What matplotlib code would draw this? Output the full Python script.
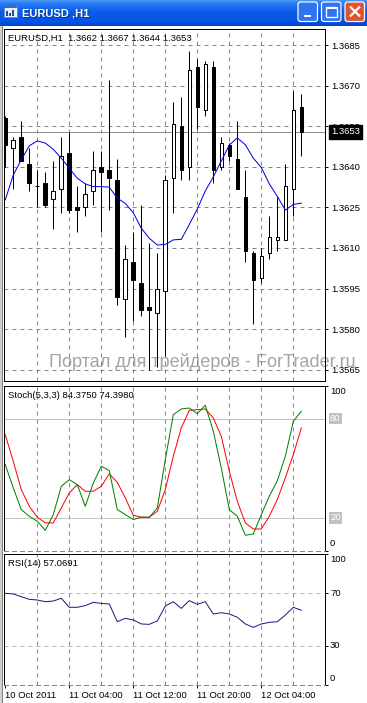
import numpy as np
import matplotlib
matplotlib.use("Agg")
import matplotlib.pyplot as plt
from matplotlib.patches import Rectangle, FancyBboxPatch
from matplotlib.colors import LinearSegmentedColormap

# ---- data (EURUSD H1, 38 bars) ----
opens = [1.3658, 1.3647, 1.3651, 1.3641, 1.3633, 1.3634, 1.3628, 1.3632, 1.3645, 1.3625,
         1.3625, 1.3631, 1.3640, 1.3639, 1.3635, 1.3591, 1.3605, 1.3597, 1.3588, 1.3586,
         1.3594, 1.3636, 1.3655, 1.3640, 1.3677, 1.3661, 1.3677, 1.3640, 1.3648, 1.3643,
         1.3629, 1.3608, 1.3599, 1.3608, 1.3613, 1.3613, 1.3632, 1.3662]
highs = [1.3659, 1.3651, 1.3657, 1.3647, 1.3639, 1.3638, 1.3642, 1.3651, 1.3653, 1.3633,
         1.3634, 1.3646, 1.3646, 1.3672, 1.3643, 1.3611, 1.3616, 1.3626, 1.3612, 1.3608,
         1.3637, 1.3664, 1.3666, 1.3683, 1.3680, 1.3679, 1.3679, 1.3651, 1.3649, 1.3657,
         1.3639, 1.3609, 1.3610, 1.3622, 1.3629, 1.3641, 1.3668, 1.3667]
lows = [1.3640, 1.3632, 1.3642, 1.3631, 1.3625, 1.3625, 1.3617, 1.3623, 1.3623, 1.3616,
        1.3622, 1.3626, 1.3616, 1.3624, 1.3589, 1.3577, 1.3583, 1.3585, 1.3565, 1.3566,
        1.3570, 1.3623, 1.3635, 1.3635, 1.3654, 1.3659, 1.3634, 1.3639, 1.3642, 1.3632,
        1.3605, 1.3582, 1.3597, 1.3606, 1.3609, 1.3613, 1.3622, 1.3644]
closes = [1.3648, 1.3650, 1.3642, 1.3634, 1.3633, 1.3626, 1.3631, 1.3644, 1.3624, 1.3624,
          1.3630, 1.3639, 1.3638, 1.3636, 1.3592, 1.3606, 1.3598, 1.3587, 1.3587, 1.3595,
          1.3635, 1.3656, 1.3639, 1.3676, 1.3662, 1.3678, 1.3639, 1.3649, 1.3644, 1.3632,
          1.3609, 1.3598, 1.3607, 1.3614, 1.3614, 1.3633, 1.3661, 1.3653]
ma_vals = [1.36278, 1.36370, 1.36426, 1.36478, 1.36496, 1.36488, 1.36465, 1.36432, 1.36395, 1.36358,
           1.36337, 1.36327, 1.36327, 1.36325, 1.36284, 1.36265, 1.36230, 1.36173, 1.36136, 1.36111,
           1.36113, 1.36130, 1.36132, 1.36187, 1.36244, 1.36311, 1.36363, 1.36422, 1.36481, 1.36507,
           1.36482, 1.36432, 1.36398, 1.36337, 1.36291, 1.36240, 1.36261, 1.36266]
stoch_k = [52.2, 38.1, 25.0, 21.0, 18.0, 12.5, 22.0, 39.1, 43.1, 40.1,
           27.0, 41.1, 51.2, 48.6, 25.0, 22.0, 19.0, 20.4, 20.4, 26.0,
           55.2, 82.4, 85.8, 86.4, 83.0, 88.1, 72.3, 50.2, 25.0, 21.0,
           9.5, 10.3, 22.0, 33.1, 42.5, 57.2, 78.4, 84.375]
stoch_d = [70.3, 54.2, 37.1, 27.0, 20.4, 17.0, 17.0, 26.0, 35.1, 40.1,
           36.1, 36.1, 39.1, 46.6, 41.5, 32.1, 21.6, 20.4, 20.4, 24.0,
           37.1, 57.2, 74.4, 85.0, 85.4, 85.8, 80.4, 69.3, 48.2, 30.0,
           17.0, 13.3, 13.3, 21.0, 31.1, 44.2, 58.2, 74.398]
rsi_vals = [70.0, 69.5, 67.4, 65.4, 64.9, 63.6, 64.1, 66.2, 59.3, 59.3,
            60.6, 63.1, 62.3, 61.8, 48.3, 50.9, 49.6, 46.6, 46.3, 48.9,
            60.3, 63.6, 58.5, 64.4, 61.6, 63.6, 54.2, 55.2, 54.2, 51.7,
            46.6, 44.0, 46.6, 47.8, 48.3, 53.4, 59.3, 57.0691]
price_ticks = [1.3685, 1.3670, 1.3655, 1.3640, 1.3625, 1.3610, 1.3595, 1.3580, 1.3565]
time_pos = [0, 8, 16, 24, 32]
time_labels = ["10 Oct 2011", "11 Oct 04:00", "11 Oct 12:00", "11 Oct 20:00", "12 Oct 04:00"]
grid_pos = [4, 8, 12, 16, 20, 24, 28, 32, 36]

W, H = 367, 703
PX = 0.72          # one pixel in points at dpi 100
FONT = "Liberation Sans"
FS = 6.8
GRID = "#778899"
DASH = (0, (4, 4))

plt.rcParams["font.family"] = [FONT, "DejaVu Sans"]


def px_rect(x0, y0, x1, y1):
    return [x0 / W, 1 - y1 / H, (x1 - x0) / W, (y1 - y0) / H]


def base_panel(ax):
    ax.set_xlim(-0.16, 39.96)
    ax.set_facecolor("white")
    for sp in ax.spines.values():
        sp.set_linewidth(PX)
        sp.set_color("black")
    ax.tick_params(left=False, labelleft=False, bottom=False, labelbottom=False)
    ax.vlines(grid_pos, 0, 1, transform=ax.get_xaxis_transform(), colors=GRID,
              linewidth=PX, linestyles=DASH, zorder=1)


def right_label(ax, value, text, dy_px=0.0, boxed=False):
    kw = {}
    if boxed:
        kw["bbox"] = dict(boxstyle="square,pad=0.12", fc="#c0c0c0", ec="none")
    ax.annotate(text, xy=(1, value), xycoords=("axes fraction", "data"),
                xytext=(5 * PX, -dy_px * PX), textcoords="offset points",
                ha="left", va="center", fontsize=FS, annotation_clip=False,
                color="white" if boxed else "black", **kw)


fig = plt.figure(figsize=(W / 100, H / 100), dpi=100)
fig.patch.set_facecolor("white")

# ---- window chrome ----
bg = fig.add_axes([0, 0, 1, 1])
bg.set_xlim(0, W)
bg.set_ylim(H, 0)
bg.axis("off")
title_cmap = LinearSegmentedColormap.from_list(
    "xp", [(0, "#4a98f8"), (0.12, "#2b7ef2"), (0.45, "#0a5ce8"), (0.85, "#0553e2"), (1, "#0444c8")])
bg.imshow(np.linspace(0, 1, 64).reshape(-1, 1), cmap=title_cmap, aspect="auto",
          extent=(0, W, 26, 0), zorder=0)
bg.add_patch(Rectangle((0, 26), 2, H - 26, fc="#d4d0c8", ec="none"))
bg.add_patch(Rectangle((2, 26), 1, H - 26, fc="#808080", ec="none"))
# icon
bg.add_patch(Rectangle((3.5, 5), 13, 12, fc="#e8eef8", ec="#6a8cc8", lw=PX))
bg.add_patch(Rectangle((3.5, 5), 13, 3, fc="#3a6ad0", ec="none"))
for bx, bh in [(6, 5), (9, 3), (12, 6)]:
    bg.add_patch(Rectangle((bx, 16 - bh), 1.5, bh, fc="#2050a0", ec="none"))
bg.text(22, 13.5, "EURUSD ,H1", color="black", alpha=0.35, fontsize=8, fontweight="bold",
        va="center", ha="left", transform=bg.transData + matplotlib.transforms.ScaledTranslation(0.7 / 100, -0.7 / 100, fig.dpi_scale_trans))
bg.text(22, 13.5, "EURUSD ,H1", color="white", fontsize=8, fontweight="bold", va="center", ha="left")
# buttons
for x0, fc in [(298, "#2f74f3"), (321.5, "#2f74f3"), (345, "#e0532f")]:
    bg.add_patch(FancyBboxPatch((x0, 2), 19.5, 19.5, boxstyle="round,pad=0,rounding_size=2.5",
                                fc=fc, ec="white", lw=PX * 1.2))
bg.add_patch(Rectangle((303.5, 14.5), 7, 2.2, fc="white", ec="none"))
bg.add_patch(Rectangle((326, 6.5), 10.5, 10.5, fc="none", ec="white", lw=PX * 1.3))
bg.add_patch(Rectangle((326, 6.5), 10.5, 2, fc="white", ec="none"))
bg.plot([350, 360], [6.5, 16.5], color="white", lw=PX * 2.2, solid_capstyle="butt")
bg.plot([350, 360], [16.5, 6.5], color="white", lw=PX * 2.2, solid_capstyle="butt")

# ---- main price panel ----
ax = fig.add_axes(px_rect(4, 29, 325, 381))
base_panel(ax)
ax.set_ylim(1.35608, 1.36910)
ax.hlines(price_ticks, 0, 1, transform=ax.get_yaxis_transform(), colors=GRID,
          linewidth=PX, linestyles=DASH, zorder=1)
ax.yaxis.tick_right()
ax.set_yticks(price_ticks)
ax.set_yticklabels([f"{p:.4f}" for p in price_ticks])
ax.tick_params(axis="y", right=True, labelright=True, length=3 * PX, width=PX,
               pad=3 * PX, labelsize=FS)

ax.text(49 / W, 1 - 367 / H, "Портал для трейдеров - ForTrader.ru", transform=fig.transFigure,
        fontsize=13.1, color="#aaa2a2", ha="left", va="baseline", zorder=0.5, clip_on=False)

x = np.arange(len(opens))
o = np.array(opens)
c = np.array(closes)
ax.vlines(x, lows, highs, colors="black", linewidth=PX, zorder=2)
bull = c >= o
ax.bar(x[bull], np.maximum(c[bull] - o[bull], 0.000005), bottom=o[bull], width=0.45,
       color="white", edgecolor="black", linewidth=PX, zorder=3)
ax.bar(x[~bull], o[~bull] - c[~bull], bottom=c[~bull], width=0.45,
       color="black", edgecolor="black", linewidth=PX, zorder=3)
ax.plot(x, ma_vals, color="#0000e0", linewidth=PX, zorder=4)

last = closes[-1]
ax.axhline(last, color="#8c8c8c", linewidth=PX, zorder=1.5)
ax.annotate(f"{last:.4f}", xy=(1, last), xycoords=("axes fraction", "data"),
            xytext=(6 * PX, 0), textcoords="offset points", ha="left", va="center",
            fontsize=FS, color="white", annotation_clip=False, zorder=10,
            bbox=dict(boxstyle="square,pad=0.25", fc="black", ec="black"))
fig.text(8 / W, 1 - 38 / H,
         f"EURUSD,H1  {opens[-1]:.4f} {highs[-1]:.4f} {lows[-1]:.4f} {closes[-1]:.4f}",
         fontsize=FS, ha="left", va="center")

# ---- stochastic panel ----
axs = fig.add_axes(px_rect(4, 385.5, 325, 551))
base_panel(axs)
axs.set_ylim(0, 100)
axs.spines["bottom"].set_color(GRID)
axs.spines["bottom"].set_linestyle(DASH)
axs.axhline(80, color="#c0c0c0", linewidth=PX, zorder=1)
axs.axhline(20, color="#c0c0c0", linewidth=PX, zorder=1)
axs.plot(x, stoch_d, color="#ff0000", linewidth=PX, zorder=3)
axs.plot(x, stoch_k, color="#008000", linewidth=PX, zorder=4)
axs.yaxis.tick_right()
axs.set_yticks([0, 100])
axs.tick_params(axis="y", right=True, labelright=False, length=3 * PX, width=PX)
right_label(axs, 100, "100", dy_px=6.5)
right_label(axs, 80, "80", boxed=True)
right_label(axs, 20, "20", boxed=True)
right_label(axs, 0, "0", dy_px=-7)
fig.text(8 / W, 1 - 395.5 / H, f"Stoch(5,3,3) {stoch_k[-1]:.4f} {stoch_d[-1]:.4f}",
         fontsize=FS, ha="left", va="center")

# ---- RSI panel ----
axr = fig.add_axes(px_rect(4, 554, 325, 685))
base_panel(axr)
axr.set_ylim(0, 100)
axr.spines["bottom"].set_color(GRID)
axr.spines["bottom"].set_linestyle(DASH)
axr.axhline(70, color="#b4b4b4", linewidth=PX, linestyle=DASH, zorder=1)
axr.axhline(30, color="#b4b4b4", linewidth=PX, linestyle=DASH, zorder=1)
axr.plot(x, rsi_vals, color="#1c1c80", linewidth=PX, zorder=3)
axr.yaxis.tick_right()
axr.set_yticks([0, 30, 70, 100])
axr.tick_params(axis="y", right=True, labelright=False, length=3 * PX, width=PX)
right_label(axr, 100, "100", dy_px=6)
right_label(axr, 70, "70")
right_label(axr, 30, "30")
right_label(axr, 0, "0", dy_px=-6.5)
fig.text(8 / W, 1 - 563.5 / H, f"RSI(14) {rsi_vals[-1]:.4f}", fontsize=FS, ha="left", va="center")

axr.set_xticks(time_pos)
axr.set_xticklabels(time_labels)
axr.tick_params(axis="x", bottom=True, labelbottom=True, length=3 * PX, width=PX,
                pad=2.5 * PX, labelsize=FS)
for lbl in axr.get_xticklabels():
    lbl.set_horizontalalignment("left")

fig.savefig("out.png", dpi=100)
